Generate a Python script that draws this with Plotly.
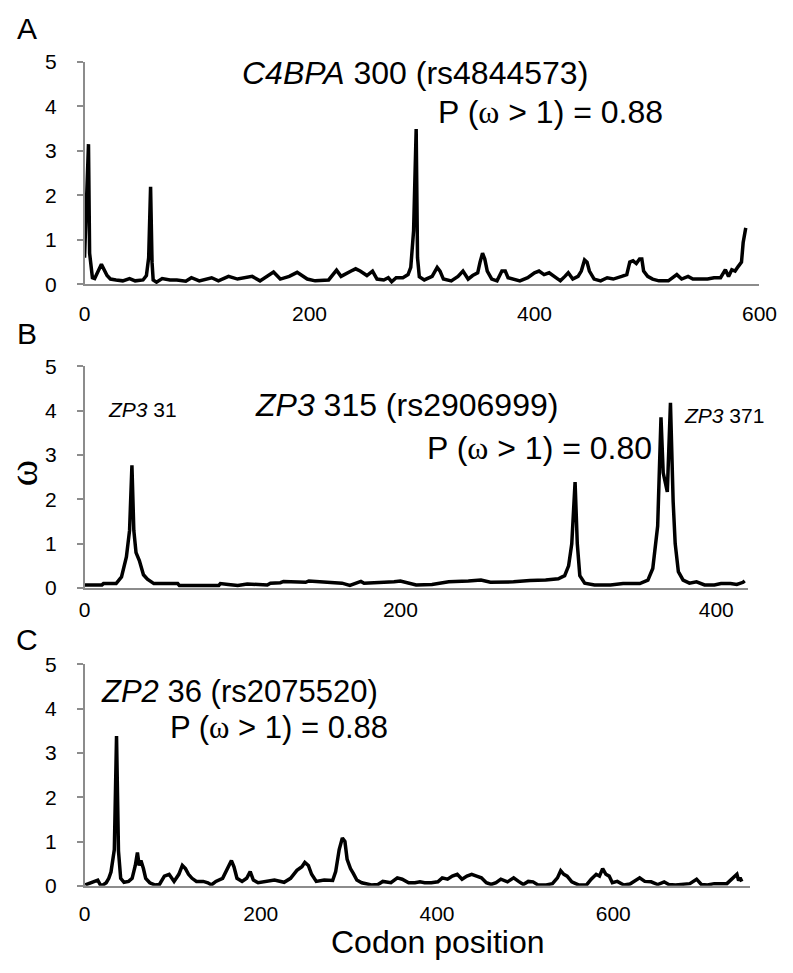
import plotly.graph_objects as go

# ---------------- data ----------------
a_codon = [0, 3.5, 4.5, 6, 7, 9, 15, 20, 23, 28, 34, 40, 45, 52, 55, 57, 58.7, 60, 61, 64,
           69, 76, 82, 90, 95, 102, 113, 119, 128, 136, 149, 156, 168, 174, 182, 189, 192,
           198, 205, 217, 224, 228, 237, 241, 245, 251, 256, 260, 266, 270, 273, 277, 283,
           287.6, 290, 292.5, 294.8, 296, 297.6, 302, 309, 313.5, 316, 319, 326, 332, 336.4,
           341, 345, 349.5, 351.6, 353.8, 355.8, 358, 362, 366.7, 371, 374, 376.5, 381, 387,
           394, 400, 404, 408.5, 413, 418.5, 423, 427, 430, 434, 438.7, 441.6, 444.5, 446.7,
           448.8, 453, 458.8, 464.6, 470, 477.5, 482, 484.7, 487.6, 490.5, 493.4, 495.4, 497,
           500.6, 505, 510.6, 519, 526.5, 530.8, 536.5, 540.8, 546.6, 553.8, 559.6, 565.4,
           569.7, 572.5, 575.4, 578.3, 581, 584, 585.5, 587, 587.8]
a_omega = [0.6, 3.15, 0.7, 0.27, 0.15, 0.13, 0.45, 0.2, 0.12, 0.1, 0.08, 0.13, 0.08, 0.1, 0.2,
           0.6, 2.19, 0.5, 0.1, 0.05, 0.13, 0.1, 0.1, 0.07, 0.15, 0.08, 0.15, 0.08, 0.18, 0.12,
           0.18, 0.08, 0.28, 0.12, 0.18, 0.27, 0.22, 0.12, 0.08, 0.1, 0.32, 0.18, 0.3, 0.35,
           0.3, 0.2, 0.3, 0.12, 0.1, 0.15, 0.06, 0.15, 0.15, 0.22, 0.38, 1.2, 3.49, 0.6, 0.17,
           0.1, 0.18, 0.38, 0.3, 0.12, 0.08, 0.18, 0.3, 0.12, 0.2, 0.26, 0.5, 0.7, 0.57, 0.3,
           0.12, 0.08, 0.3, 0.3, 0.15, 0.12, 0.08, 0.15, 0.26, 0.3, 0.22, 0.26, 0.15, 0.08,
           0.18, 0.26, 0.12, 0.18, 0.3, 0.55, 0.5, 0.3, 0.12, 0.08, 0.15, 0.12, 0.18, 0.22,
           0.5, 0.53, 0.47, 0.57, 0.57, 0.3, 0.18, 0.12, 0.08, 0.08, 0.22, 0.12, 0.18, 0.12,
           0.12, 0.12, 0.15, 0.15, 0.33, 0.18, 0.33, 0.3, 0.4, 0.5, 0.94, 1.2, 1.27]

b_codon = [0, 11, 12, 20, 23.4, 26.5, 28.5, 30, 31.2, 32.6, 34.7, 37.3, 39.8, 43.9, 59, 60, 85,
           86, 91, 97, 103, 115.7, 117.7, 124, 126, 140, 142, 154.7, 163, 168, 171, 175, 177,
           189.5, 196, 200, 206, 210, 220, 230.6, 243, 251, 257, 271.6, 282, 292, 300, 304,
           306.5, 308.5, 310.6, 312, 313.6, 316.7, 322.9, 333, 341, 351.6, 356.7, 359.8, 362.9,
           365, 366.4, 369, 371, 372.7, 374, 376, 379, 383, 387.5, 392.6, 398.8, 403, 409, 413,
           417, 418]
b_omega = [0.07, 0.07, 0.1, 0.1, 0.25, 0.7, 1.3, 2.77, 1.3, 0.8, 0.62, 0.3, 0.2, 0.1, 0.1, 0.06,
           0.06, 0.1, 0.08, 0.06, 0.09, 0.07, 0.11, 0.12, 0.15, 0.13, 0.16, 0.14, 0.11, 0.06,
           0.1, 0.15, 0.11, 0.12, 0.14, 0.16, 0.11, 0.07, 0.08, 0.14, 0.16, 0.18, 0.13, 0.14,
           0.17, 0.18, 0.21, 0.28, 0.5, 1.0, 2.39, 1.0, 0.28, 0.11, 0.07, 0.07, 0.1, 0.1, 0.18,
           0.44, 1.4, 3.85, 2.6, 2.17, 4.18, 1.95, 1.0, 0.37, 0.18, 0.11, 0.14, 0.07, 0.07, 0.1,
           0.1, 0.08, 0.13, 0.16]

c_codon = [0.8, 4.4, 10, 15, 18, 21, 24.6, 27.5, 30, 33.8, 36.3, 38.5, 41, 44.8, 50, 54, 57.6,
           60, 62, 64, 66.8, 69.4, 74, 79.6, 85, 90.6, 96, 101.6, 107, 111, 114.5, 118, 122,
           127, 134.7, 140, 144, 149, 156.7, 162, 166.7, 169.6, 173, 178.8, 184, 188, 191.6,
           197, 204.5, 215.5, 226.5, 233.8, 241, 246.7, 250, 254, 257.7, 263, 272, 281.6, 285,
           289, 292.6, 295.5, 298, 301.8, 305, 309, 314.6, 325.6, 333, 338.5, 347.7, 355,
           360.5, 367.8, 375, 380.7, 386, 393.5, 401, 406, 412, 417.4, 423, 428.4, 434, 439.4,
           445, 450.4, 456, 461.5, 467, 472.5, 480, 487, 492.6, 498, 503.6, 509, 514.6, 524,
           531, 536.7, 540.4, 544, 547.7, 553, 560.6, 569.7, 575, 580.7, 584.4, 588, 591.7,
           595.4, 599, 604.6, 612, 619, 630, 635.8, 643, 650.5, 657.8, 663, 670.7, 678, 687,
           694.6, 700, 707, 714.7, 729, 735, 740.4, 742.3, 744, 746]
c_omega = [0.02, 0.05, 0.1, 0.13, 0.02, 0.02, 0.07, 0.17, 0.31, 0.82, 3.38, 0.79, 0.17, 0.08,
           0.1, 0.17, 0.46, 0.75, 0.46, 0.57, 0.39, 0.17, 0.07, 0.02, 0.03, 0.22, 0.26, 0.1,
           0.26, 0.46, 0.39, 0.26, 0.17, 0.1, 0.1, 0.07, 0.02, 0.1, 0.17, 0.39, 0.57, 0.43,
           0.17, 0.1, 0.17, 0.32, 0.13, 0.07, 0.1, 0.13, 0.08, 0.17, 0.35, 0.43, 0.53, 0.46,
           0.26, 0.1, 0.13, 0.12, 0.32, 0.82, 1.08, 1.0, 0.6, 0.39, 0.28, 0.13, 0.07, 0.02,
           0.03, 0.1, 0.07, 0.18, 0.15, 0.07, 0.07, 0.09, 0.07, 0.07, 0.09, 0.18, 0.15, 0.22,
           0.26, 0.15, 0.22, 0.26, 0.22, 0.18, 0.07, 0.03, 0.07, 0.15, 0.09, 0.18, 0.1, 0.03,
           0.1, 0.09, 0.02, 0.02, 0.05, 0.18, 0.34, 0.26, 0.22, 0.09, 0.02, 0.02, 0.15, 0.26,
           0.22, 0.39, 0.26, 0.22, 0.07, 0.1, 0.02, 0.04, 0.18, 0.1, 0.09, 0.03, 0.09, 0.03,
           0.02, 0.04, 0.05, 0.15, 0.03, 0.02, 0.05, 0.05, 0.15, 0.26, 0.12, 0.18, 0.1]

y_ticks = [0, 1, 2, 3, 4, 5]
a_xticks = [0, 200, 400, 600]
b_xticks = [0, 200, 400]
c_xticks = [0, 200, 400, 600]

# ---------------- figure ----------------
W, H = 793, 973
FONT = "Liberation Sans, Arial, sans-serif"
AXC = "#8c8c8c"
LINE = dict(color="black", width=3.5)

fig = go.Figure()
fig.add_trace(go.Scatter(x=a_codon, y=a_omega, mode="lines", line=LINE, xaxis="x", yaxis="y"))
fig.add_trace(go.Scatter(x=b_codon, y=b_omega, mode="lines", line=LINE, xaxis="x2", yaxis="y2"))
fig.add_trace(go.Scatter(x=c_codon, y=c_omega, mode="lines", line=LINE, xaxis="x3", yaxis="y3"))


def px_x(p):
    return p / W


def px_y(p):
    return 1 - p / H


def yax(top, bottom, anchor):
    return dict(domain=[px_y(bottom), px_y(top)], range=[0, 5], tickvals=y_ticks,
                ticks="outside", ticklen=6, tickcolor=AXC, tickwidth=1.5,
                showline=True, linecolor=AXC, linewidth=1.5, showgrid=False,
                zeroline=False, anchor=anchor, ticklabelstandoff=16,
                tickfont=dict(family=FONT, size=21, color="black"))


def xax(left, right, rng, tv, anchor, standoff):
    return dict(domain=[px_x(left), px_x(right)], range=rng, tickvals=tv, ticks="",
                showline=True, linecolor=AXC, linewidth=1.5, showgrid=False,
                zeroline=False, anchor=anchor, ticklabelstandoff=standoff,
                ticklabeloverflow="allow",
                tickfont=dict(family=FONT, size=21, color="black"))


fig.update_layout(
    width=W, height=H, margin=dict(l=0, r=0, t=0, b=0),
    paper_bgcolor="white", plot_bgcolor="white", showlegend=False,
    font=dict(family=FONT, color="black"),
    xaxis=xax(81, 777, [0, 600], a_xticks, "y", 10),
    yaxis=yax(51, 279, "x"),
    xaxis2=xax(81, 765, [0, 420], b_xticks, "y2", 2),
    yaxis2=yax(363, 590, "x2"),
    xaxis3=xax(81, 767, [0, 755], c_xticks, "y3", 8),
    yaxis3=yax(668, 895, "x3"),
)

OM = "<span style='font-family:Liberation Serif'>ω</span>"


def ann(text, cx, cy, size, angle=0):
    fig.add_annotation(text=text, x=px_x(cx), y=px_y(cy), xref="paper", yref="paper",
                       xanchor="center", yanchor="middle", showarrow=False,
                       textangle=angle, font=dict(family=FONT, size=size, color="black"))


# panel letters
ann("A", 22, 17, 30)
ann("B", 22, 329, 30)
ann("C", 22, 643, 30)

# panel A texts
ann("<i>C4BPA</i> 300 (rs4844573)", 422, 62, 32)
ann("P (" + OM + " > 1) = 0.88", 562, 102, 32)

# panel B texts
ann("<i>ZP3</i> 315 (rs2906999)", 413, 403, 32)
ann("P (" + OM + " > 1) = 0.80", 550, 447, 32)
ann("<i>ZP3</i> 31", 141, 407, 21)
ann("<i>ZP3</i> 371", 740, 413, 21)

# panel C texts
ann("<i>ZP2</i> 36 (rs2075520)", 241, 696, 31)
ann("P (" + OM + " > 1) = 0.88", 282, 733, 31)

# axis titles
ann(OM, 18, 472, 40, angle=-90)
ann("Codon position", 445, 953, 32)

fig.write_html("out.html", config={"displayModeBar": False},
               post_script="document.body.style.margin='0px';")
